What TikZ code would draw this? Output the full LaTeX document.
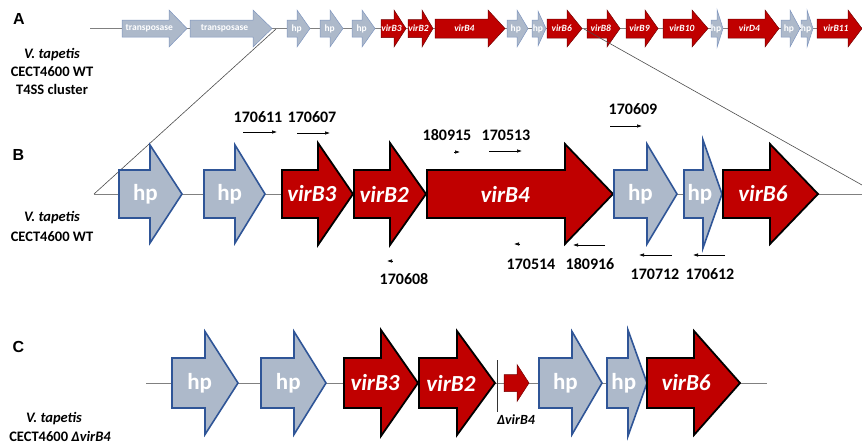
\documentclass[tikz,border=0pt]{standalone}
\usepackage{fontspec}
\setmainfont{Carlito}
\newfontfamily\panelfont{Liberation Sans}
\usetikzlibrary{arrows.meta, calc}

\definecolor{virred}{HTML}{C00000}
\definecolor{hpfill}{HTML}{ADB9CA}
\definecolor{hpedge}{HTML}{2F5597}
\definecolor{hpedgeA}{HTML}{7F96BF}

% gene arrow: style, name, start, head base, tip, y, body half, head half, label
\newcommand{\gene}[9]{%
  \draw[#1] (#3,{#6-#7}) -- (#4,{#6-#7}) -- (#4,{#6-#8}) -- (#5,#6)
    -- (#4,{#6+#8}) -- (#4,{#6+#7}) -- (#3,{#6+#7}) -- cycle;
  \path (#3,#6) -- (#5,#6) node[pos=0.42, genetext] (#2) {#9};
}

\begin{document}
\begin{tikzpicture}[x=1pt, y=-1pt,
    hpsmall/.style={fill=hpfill, draw=hpedgeA, line width=0.5pt},
    virsmall/.style={fill=virred, draw=virred!60!black, line width=0.5pt},
    hpgene/.style={fill=hpfill, draw=hpedge, line width=1.6pt},
    virgene/.style={fill=virred, draw=black, line width=1.8pt},
    genetext/.style={text=white, inner sep=0pt},
    backbone/.style={draw=gray, line width=1pt},
    zoomline/.style={draw=black!70, line width=0.6pt},
    primer/.style={-{Latex[length=5pt,width=3.5pt]}, line width=0.6pt},
    primertext/.style={font=\bfseries\fontsize{16}{18}\selectfont, inner sep=0pt},
    strain/.style={font=\bfseries\fontsize{14.5}{16}\selectfont, align=center, inner sep=0pt},
    panel/.style={font=\panelfont\bfseries\fontsize{16}{18}\selectfont, inner sep=0pt}]
    \useasboundingbox (0,0) rectangle (862,445);

    % Panel letters
    \node[panel] (lA) at (19,19) {A};
    \node[panel] (lB) at (18.5,155) {B};
    \node[panel] (lC) at (18.5,347) {C};

    % Strain labels
    \node[strain] (sA1) at (52,55) {\itshape V. tapetis};
    \node[strain] (sA2) at (52,72) {CECT4600 WT};
    \node[strain] (sA3) at (52,89) {T4SS cluster};
    \node[strain] (sB1) at (52,218) {\itshape V. tapetis};
    \node[strain] (sB2) at (52,237) {CECT4600 WT};
    \node[strain] (sC1) at (54,419) {\itshape V. tapetis};
    \node[strain] (sC2) at (60,436) {CECT4600 \itshape ΔvirB4};

    % A: whole cluster
    \coordinate (Al) at (90,28.5);
    \coordinate (Ar) at (862,28.5);
    \draw[backbone, line width=0.8pt] (Al) -- (Ar);
    \begin{scope}[font=\bfseries\fontsize{9.5}{10}\selectfont]
    \gene{hpsmall}{aT1}{122}{169}{187}{28.5}{8.5}{18.5}{transposase}
    \gene{hpsmall}{aT2}{190}{253}{272}{28.5}{8.5}{18.5}{transposase}
    \gene{hpsmall}{aH1}{287}{297}{310}{28.5}{8.5}{18.5}{hp}
    \gene{hpsmall}{aH2}{320}{330}{343}{28.5}{8.5}{18.5}{hp}
    \gene{hpsmall}{aH3}{352}{362}{375}{28.5}{8.5}{18.5}{hp}
    \gene{virsmall}{aB3}{381}{394}{406}{28.5}{9}{18.5}{\itshape virB3}
    \gene{virsmall}{aB2}{408}{422}{433}{28.5}{9}{18.5}{\itshape virB2}
    \gene{virsmall}{aB4}{435}{488}{505}{28.5}{9.5}{18.5}{\itshape virB4}
    \gene{hpsmall}{aH4}{507}{517}{528}{28.5}{8.5}{18.5}{hp}
    \gene{hpsmall}{aH5}{532}{538}{546}{28.5}{8.5}{17.5}{hp}
    \gene{virsmall}{aB6}{547}{567}{582}{28.5}{9.5}{18.5}{\itshape virB6}
    \gene{virsmall}{aB8}{587}{607}{620}{28.5}{9.5}{18.5}{\itshape virB8}
    \gene{virsmall}{aB9}{626}{645}{658}{28.5}{9.5}{18.5}{\itshape virB9}
    \gene{virsmall}{aB10}{663}{692}{708}{28.5}{9.5}{18.5}{\itshape virB10}
    \gene{hpsmall}{aH6}{711}{717}{723}{28.5}{8.5}{19}{hp}
    \gene{virsmall}{aD4}{728}{765}{779}{28.5}{9.5}{18.5}{\itshape virD4}
    \gene{hpsmall}{aH7}{781}{790}{800}{28.5}{8.5}{18.5}{hp}
    \gene{hpsmall}{aH8}{801}{807}{813}{28.5}{8.5}{18.5}{hp}
    \gene{virsmall}{aB11}{817}{848}{862}{28.5}{9.5}{18.5}{\itshape virB11}
    \end{scope}

    % Zoom lines from A to B
    \coordinate (zA1) at (276,29);
    \coordinate (zA2) at (584,29);
    \coordinate (Bl) at (94,194);
    \coordinate (zB2) at (862,185);
    \draw[zoomline] (zA1) -- (Bl);
    \draw[zoomline] (zA2) -- (zB2);

    % B: wild type region
    \coordinate (Br) at (862,194);
    \draw[backbone] (Bl) -- (Br);
    \begin{scope}[font=\bfseries\fontsize{23}{25}\selectfont]
    \gene{hpgene}{bH1}{119}{150}{182}{194}{24}{49}{hp}
    \gene{hpgene}{bH2}{204}{235}{265}{194}{24}{49}{hp}
    \gene{virgene}{bB3}{282}{318}{353}{194}{24}{51}{\itshape virB3}
    \gene{virgene}{bB2}{354}{390}{426}{194}{24}{51}{\itshape virB2}
    \gene{virgene}{bB4}{427}{565}{613}{194}{24}{50}{\itshape virB4}
    \gene{hpgene}{bH3}{614}{647}{677}{194}{24}{50}{hp}
    \gene{hpgene}{bH4}{684}{703}{722}{194}{24}{54}{hp}
    \gene{virgene}{bB6}{723}{770}{818}{194}{24}{50}{\itshape virB6}
    \end{scope}

    % Primers
    \node[primertext] (p170611) at (258,117) {170611};
    \node[primertext] (p170607) at (312,117) {170607};
    \node[primertext] (p170608) at (404,279) {170608};
    \node[primertext] (p180915) at (447,135) {180915};
    \node[primertext] (p170513) at (506,135) {170513};
    \node[primertext] (p170609) at (633,109) {170609};
    \node[primertext] (p170514) at (531,264) {170514};
    \node[primertext] (p180916) at (590,264) {180916};
    \node[primertext] (p170712) at (655,274) {170712};
    \node[primertext] (p170612) at (710,274) {170612};
    \draw[primer] (243,132) -- (277,132);
    \draw[primer] (297,133) -- (330,133);
    \draw[primer] (393,261) -- (387,261);
    \draw[primer] (454,152) -- (460,152);
    \draw[primer] (489,151) -- (522,151);
    \draw[primer] (610,126) -- (642,126);
    \draw[primer] (520,244) -- (514,244);
    \draw[primer] (605,245) -- (573,245);
    \draw[primer] (672,255) -- (639,255);
    \draw[primer] (725,255) -- (693,255);

    % C: deletion mutant
    \coordinate (Cl) at (146,383);
    \coordinate (Cr) at (767,383);
    \draw[backbone] (Cl) -- (Cr);
    \coordinate (cut1) at (497,360);
    \coordinate (cut2) at (497,412);
    \draw[line width=0.8pt, black!80] (cut1) -- (cut2);
    \begin{scope}[font=\bfseries\fontsize{23}{25}\selectfont]
    \gene{hpgene}{cH1}{172}{205}{238}{383}{25}{51.5}{hp}
    \gene{hpgene}{cH2}{261}{294}{326}{383}{25}{51.5}{hp}
    \gene{virgene}{cB3}{344}{381}{418}{383}{25}{53}{\itshape virB3}
    \gene{virgene}{cB2}{419}{457}{495}{383}{25}{52}{\itshape virB2}
    \gene{virsmall}{cB4}{504}{517}{529}{383}{8.5}{18.5}{}
    \gene{hpgene}{cH3}{539}{572}{602}{383}{25}{51.5}{hp}
    \gene{hpgene}{cH4}{607}{628}{647}{383}{25}{53}{hp}
    \gene{virgene}{cB6}{647}{694}{740}{383}{25}{52}{\itshape virB6}
    \end{scope}
    \node[strain, font=\bfseries\itshape\fontsize{14}{16}\selectfont] (dB4) at (516,420) {ΔvirB4};
\end{tikzpicture}
\end{document}
